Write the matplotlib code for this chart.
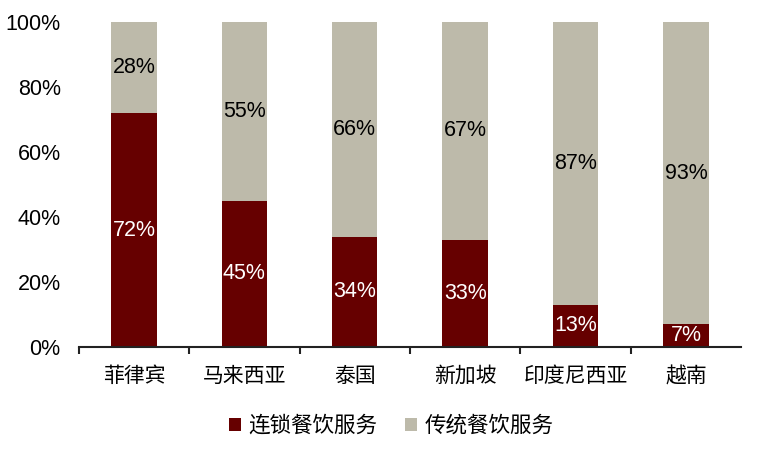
import matplotlib
matplotlib.use("Agg")
import matplotlib.pyplot as plt
import numpy as np

categories = ["菲律宾", "马来西亚", "泰国", "新加坡", "印度尼西亚", "越南"]
chain = [72, 45, 34, 33, 13, 7]
traditional = [28, 55, 66, 67, 87, 93]
series_names = ["连锁餐饮服务", "传统餐饮服务"]
yticks = [0, 20, 40, 60, 80, 100]

plt.rcParams['font.family'] = ['Liberation Sans', 'Noto Sans CJK SC', 'DejaVu Sans']

c_dark = "#660000"
c_gray = "#BDBAAA"

fig = plt.figure(figsize=(7.57, 4.49), dpi=100)
ax = fig.add_axes([0.104, 0.227, 0.875, 0.724])

x = np.arange(len(categories))
w = 0.41
b1 = ax.bar(x, chain, w, color=c_dark, label=series_names[0])
b2 = ax.bar(x, traditional, w, bottom=chain, color=c_gray, label=series_names[1])

for i in range(len(categories)):
    ax.text(x[i], chain[i] / 2, f"{chain[i]}%", ha="center", va="center",
            color="white", fontsize=15.5)
    ax.text(x[i], chain[i] + traditional[i] / 2, f"{traditional[i]}%", ha="center",
            va="center", color="black", fontsize=15.5)

ax.set_xlim(-0.5, 5.5)
ax.set_ylim(0, 100)
ax.set_yticks(yticks)
ax.set_yticklabels([f"{v}%" for v in yticks], fontsize=15.5)
ax.tick_params(axis="y", length=0, pad=13)
ax.set_xticks(x)
ax.set_xticklabels(categories, fontsize=15, family=['Noto Sans CJK SC', 'DejaVu Sans'])
ax.tick_params(axis="x", which="major", length=0, pad=13)
ax.set_xticks(np.arange(-0.5, 5.0, 1.0), minor=True)
ax.tick_params(axis="x", which="minor", length=5, width=1.5, direction="out", color="#222222")

for s in ["top", "right", "left"]:
    ax.spines[s].set_visible(False)
ax.spines["bottom"].set_linewidth(1.5)
ax.spines["bottom"].set_color("#222222")

leg = fig.legend(handles=[b1, b2], labels=series_names, loc="lower center",
                 bbox_to_anchor=(0.517, -0.016), ncol=2, frameon=False,
                 prop={'family': ['Noto Sans CJK SC', 'DejaVu Sans'], 'size': 15.5},
                 handlelength=0.55, handleheight=0.55, handletextpad=0.35, columnspacing=1.3)

fig.savefig("out.png", dpi=100)
